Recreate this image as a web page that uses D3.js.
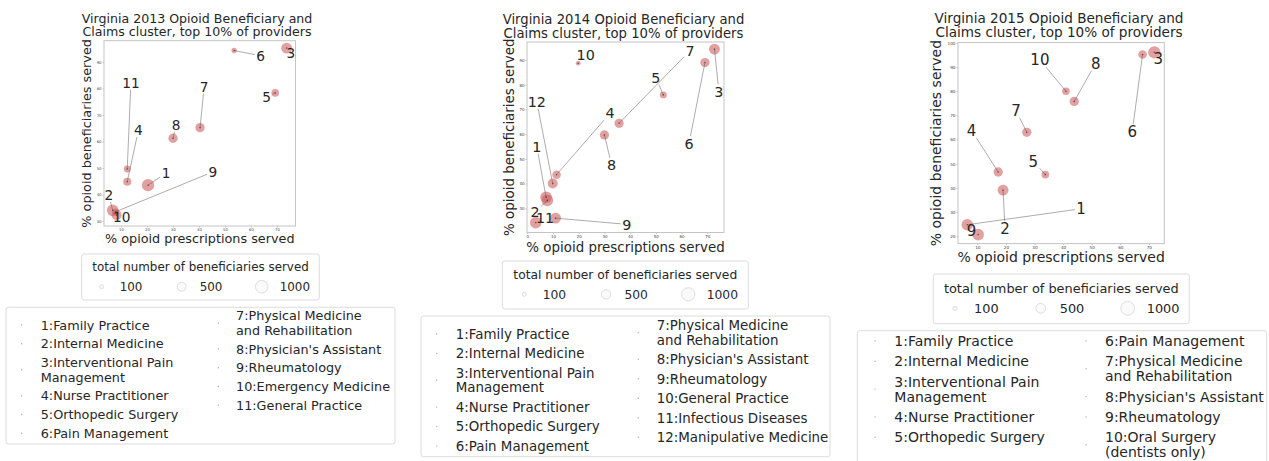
<!DOCTYPE html>
<html><head><meta charset="utf-8">
<script src="https://cdn.jsdelivr.net/npm/d3@7"></script>
<style>body{margin:0;background:#fff} svg{display:block} text{font-family:"DejaVu Sans",sans-serif;fill:#262626}</style>
</head><body><svg id="c" width="1269" height="461"></svg>
<script>
// ---------- DATA ----------
const years = [2013, 2014, 2015];
const sizeLegendValues = [100, 500, 1000];

const categories2013 = ["1:Family Practice","2:Internal Medicine","3:Interventional Pain\nManagement","4:Nurse Practitioner","5:Orthopedic Surgery","6:Pain Management","7:Physical Medicine\nand Rehabilitation","8:Physician's Assistant","9:Rheumatology","10:Emergency Medicine","11:General Practice"];
const prescriptions2013 = [20.4, 6.8, 73.7, 12.4, 69.3, 53.5, 40.4, 30.0, 8.0, 8.3, 12.4];
const beneficiaries2013 = [43.5, 34.0, 95.2, 44.8, 78.3, 94.3, 65.2, 61.2, 33.5, 32.2, 49.6];
const totalBenef2013 = [708, 630, 557, 309, 274, 133, 403, 403, 200, 466, 227];
const labelX2013 = [27.3, 5.3, 75.3, 16.7, 66.0, 63.7, 42.0, 31.2, 45.3, 10.3, 13.8];
const labelY2013 = [48.0, 39.8, 93.3, 64.3, 76.7, 92.3, 80.7, 66.3, 48.5, 31.6, 82.2];
const xTicks2013 = [10, 20, 30, 40, 50, 60, 70];
const yTicks2013 = [30, 40, 50, 60, 70, 80, 90];

const categories2014 = ["1:Family Practice","2:Internal Medicine","3:Interventional Pain\nManagement","4:Nurse Practitioner","5:Orthopedic Surgery","6:Pain Management","7:Physical Medicine\nand Rehabilitation","8:Physician's Assistant","9:Rheumatology","10:General Practice","11:Infectious Diseases","12:Manipulative Medicine"];
const prescriptions2014 = [7.3, 7.8, 72.8, 11.4, 52.9, 69.1, 35.7, 30.0, 11.0, 19.8, 3.3, 9.9];
const beneficiaries2014 = [34.5, 33.2, 94.4, 43.6, 75.9, 89.0, 64.4, 59.7, 26.0, 88.7, 24.2, 40.0];
const totalBenef2014 = [574, 574, 507, 314, 207, 367, 367, 367, 507, 92, 574, 425];
const labelX2014 = [3.7, 3.0, 74.5, 32.2, 50.0, 62.9, 63.3, 32.8, 38.7, 22.7, 6.9, 3.7];
const labelY2014 = [55.0, 28.4, 77.2, 68.5, 83.0, 56.3, 93.8, 47.5, 23.5, 92.0, 26.0, 73.2];
const xTicks2014 = [0, 10, 20, 30, 40, 50, 60, 70];
const yTicks2014 = [30, 40, 50, 60, 70, 80, 90];

const categories2015 = ["1:Family Practice","2:Internal Medicine","3:Interventional Pain\nManagement","4:Nurse Practitioner","5:Orthopedic Surgery","6:Pain Management","7:Physical Medicine\nand Rehabilitation","8:Physician's Assistant","9:Rheumatology","10:Oral Surgery\n(dentists only)"];
const prescriptions2015 = [6.5, 19.0, 71.9, 17.3, 33.8, 67.8, 27.3, 43.9, 10.3, 41.0];
const beneficiaries2015 = [24.8, 39.1, 96.1, 46.6, 45.5, 95.2, 63.0, 75.8, 20.7, 80.0];
const totalBenef2015 = [525, 464, 590, 336, 229, 287, 336, 336, 525, 229];
const labelX2015 = [46.3, 19.7, 73.3, 8.0, 29.6, 64.2, 23.5, 51.4, 8.0, 31.9];
const labelY2015 = [31.4, 23.2, 93.4, 63.8, 51.1, 63.4, 72.1, 91.6, 22.5, 93.0];
const xTicks2015 = [10, 20, 30, 40, 50, 60, 70];
const yTicks2015 = [20, 30, 40, 50, 60, 70, 80, 90, 100];

// ---------- LAYOUT ----------
const layouts = [
  { s:1, left:104, right:295.5, top:40.7, bottom:226, xDomain:[3.46,77.1], yDomain:[28.1,98.0],
    titleCx:197, titleY:[22.5,35.5], titleFs:12.6, ylabelX:91, xlabelY:242.5, axFs:12.8,
    size:{x:81.7,y:254,w:237.6,h:46,titleY:270.8,itemY:286.7,cx:[101.7,181.7,261.7],dx:18,fs:11.9},
    cat:{x:6,y:307.3,w:389,h:136.7,mx:[21.7,218.3],tx:[40.7,236],c0:[325,323],step:18.7,gap:14.7,fs:12.8} },
  { s:1.047, left:527, right:724, top:42, bottom:232.5, xDomain:[-0.1,76.5], yDomain:[20.2,97.3],
    titleCx:623.5, titleY:[24.4,38], titleFs:13.2, ylabelX:514, xlabelY:252, axFs:13.4,
    size:{x:502.3,y:261,w:246,h:48,titleY:279.3,itemY:294.3,cx:[524.3,606,688.3],dx:18.4,fs:12.3},
    cat:{x:421,y:316,w:409,h:140.7,mx:[436.7,638.3],tx:[455.7,656.7],c0:[334,332.5],step:19.5,gap:14.6,fs:13.4} },
  { s:1.095, left:958, right:1164.3, top:42.6, bottom:243.6, xDomain:[3.25,75.4], yDomain:[17,100.1],
    titleCx:1059, titleY:[22.8,36.9], titleFs:13.6, ylabelX:940.5, xlabelY:262, axFs:14,
    size:{x:933.3,y:274,w:256,h:49.7,titleY:292.9,itemY:308.3,cx:[955,1040.7,1127.7],dx:19,fs:12.9},
    cat:{x:857.3,y:330.7,w:409.4,h:140,mx:[875,1086],tx:[894.3,1105],c0:[341,341],step:20.3,gap:15,fs:14} }
];

const panelData = [
  {cats:categories2013, px:prescriptions2013, py:beneficiaries2013, n:totalBenef2013, lx:labelX2013, ly:labelY2013, xt:xTicks2013, yt:yTicks2013},
  {cats:categories2014, px:prescriptions2014, py:beneficiaries2014, n:totalBenef2014, lx:labelX2014, ly:labelY2014, xt:xTicks2014, yt:yTicks2014},
  {cats:categories2015, px:prescriptions2015, py:beneficiaries2015, n:totalBenef2015, lx:labelX2015, ly:labelY2015, xt:xTicks2015, yt:yTicks2015}
];

const svg = d3.select("#c");

function drawPanel(year, D, L) {
  const g = svg.append("g");
  const x = d3.scaleLinear().domain(L.xDomain).range([L.left, L.right]);
  const y = d3.scaleLinear().domain(L.yDomain).range([L.bottom, L.top]);
  const r = d3.scaleSqrt().domain([0, 1000]).range([0, 7.3 * L.s]);
  const rLeg = d3.scaleSqrt().domain([0, 1000]).range([0, 6.3 * L.s]);
  const tickFs = 3.8 * L.s;

  // axes
  const xa = g.append("g").attr("transform", `translate(0,${L.bottom})`)
    .call(d3.axisBottom(x).tickValues(D.xt).tickSize(1.5).tickPadding(1).tickFormat(d3.format("d")));
  const ya = g.append("g").attr("transform", `translate(${L.left},0)`)
    .call(d3.axisLeft(y).tickValues(D.yt).tickSize(1.5).tickPadding(1).tickFormat(d3.format("d")));
  [xa, ya].forEach(a => {
    a.select(".domain").remove();
    a.selectAll("line").attr("stroke", "#888").attr("stroke-width", 0.5);
    a.selectAll("text").attr("font-size", tickFs).style("fill", "#444");
  });
  g.append("rect").attr("x", L.left).attr("y", L.top).attr("width", L.right - L.left).attr("height", L.bottom - L.top)
    .attr("fill", "none").attr("stroke", "#c4c4c4").attr("stroke-width", 1);

  // title
  const t = g.append("text").attr("text-anchor", "middle").attr("font-size", L.titleFs);
  t.append("tspan").attr("x", L.titleCx).attr("y", L.titleY[0]).text(`Virginia ${year} Opioid Beneficiary and`);
  t.append("tspan").attr("x", L.titleCx).attr("y", L.titleY[1]).text("Claims cluster, top 10% of providers");

  // axis labels
  const cx = (L.left + L.right) / 2, cy = (L.top + L.bottom) / 2;
  g.append("text").attr("text-anchor", "middle").attr("font-size", L.axFs)
    .attr("x", cx).attr("y", L.xlabelY).text("% opioid prescriptions served");
  g.append("text").attr("text-anchor", "middle").attr("font-size", L.axFs)
    .attr("transform", `translate(${L.ylabelX},${cy}) rotate(-90)`).text("% opioid beneficiaries served");

  const idx = d3.range(D.px.length);
  // bubbles
  g.append("g").selectAll("circle").data(idx).join("circle")
    .attr("cx", i => x(D.px[i])).attr("cy", i => y(D.py[i])).attr("r", i => r(D.n[i]))
    .attr("fill", "indianred").attr("fill-opacity", 0.58);

  // leader lines
  const lfs = 13.7 * L.s;
  idx.forEach(i => {
    const lx = x(D.lx[i]), ly = y(D.ly[i]);
    const px = x(D.px[i]), py = y(D.py[i]);
    const str = String(i + 1);
    const hw = str.length * 0.636 * lfs / 2 + 1.5, hh = 0.73 * lfs / 2 + 2;
    const dx = px - lx, dy = py - ly;
    let tt = Math.min(Math.abs(dx) > 1e-6 ? hw / Math.abs(dx) : Infinity, Math.abs(dy) > 1e-6 ? hh / Math.abs(dy) : Infinity);
    if (tt < 1) {
      g.append("line").attr("x1", lx + tt * dx).attr("y1", ly + tt * dy).attr("x2", px).attr("y2", py)
        .attr("stroke", "#555").attr("stroke-opacity", 0.7).attr("stroke-width", 0.7);
    }
  });
  // center dots
  g.append("g").selectAll("circle").data(idx).join("circle")
    .attr("cx", i => x(D.px[i])).attr("cy", i => y(D.py[i])).attr("r", 0.8)
    .attr("fill", "#333").attr("fill-opacity", 0.7);
  // number labels
  g.append("g").selectAll("text").data(idx).join("text")
    .attr("text-anchor", "middle").attr("font-size", lfs)
    .attr("x", i => x(D.lx[i])).attr("y", i => y(D.ly[i]) + 0.365 * lfs)
    .text(i => String(i + 1));

  // size legend
  const S = L.size;
  g.append("rect").attr("x", S.x).attr("y", S.y).attr("width", S.w).attr("height", S.h).attr("rx", 2.5)
    .attr("fill", "#fff").attr("stroke", "#dcdcdc").attr("stroke-width", 1);
  g.append("text").attr("text-anchor", "middle").attr("font-size", S.fs)
    .attr("x", S.x + S.w / 2).attr("y", S.titleY).text("total number of beneficiaries served");
  sizeLegendValues.forEach((v, k) => {
    g.append("circle").attr("cx", S.cx[k]).attr("cy", S.itemY).attr("r", rLeg(v))
      .attr("fill", "#fafafa").attr("stroke", "#d6d6d6").attr("stroke-width", 0.8);
    g.append("text").attr("font-size", S.fs).attr("x", S.cx[k] + S.dx).attr("y", S.itemY + 0.365 * S.fs).text(v);
  });

  // category legend
  const C = L.cat;
  g.append("rect").attr("x", C.x).attr("y", C.y).attr("width", C.w).attr("height", C.h).attr("rx", 2.5)
    .attr("fill", "#fff").attr("stroke", "#dcdcdc").attr("stroke-width", 1);
  const nCol1 = Math.ceil(D.cats.length / 2);
  [D.cats.slice(0, nCol1), D.cats.slice(nCol1)].forEach((col, ci) => {
    let prevH = null, c = C.c0[ci];
    col.forEach((name, k) => {
      const lines = name.split("\n");
      const h = C.step + (lines.length - 1) * C.gap;
      if (prevH !== null) c += (prevH + h) / 2;
      prevH = h;
      g.append("circle").attr("cx", C.mx[ci]).attr("cy", c).attr("r", 0.7).attr("fill", "#aaa");
      const y0 = c - (lines.length - 1) * C.gap / 2;
      const tx = g.append("text").attr("font-size", C.fs);
      lines.forEach((ln, j) => tx.append("tspan").attr("x", C.tx[ci]).attr("y", y0 + j * C.gap + 0.36 * C.fs).text(ln));
    });
  });
}

years.forEach((yr, i) => drawPanel(yr, panelData[i], layouts[i]));
</script>
</body></html>
